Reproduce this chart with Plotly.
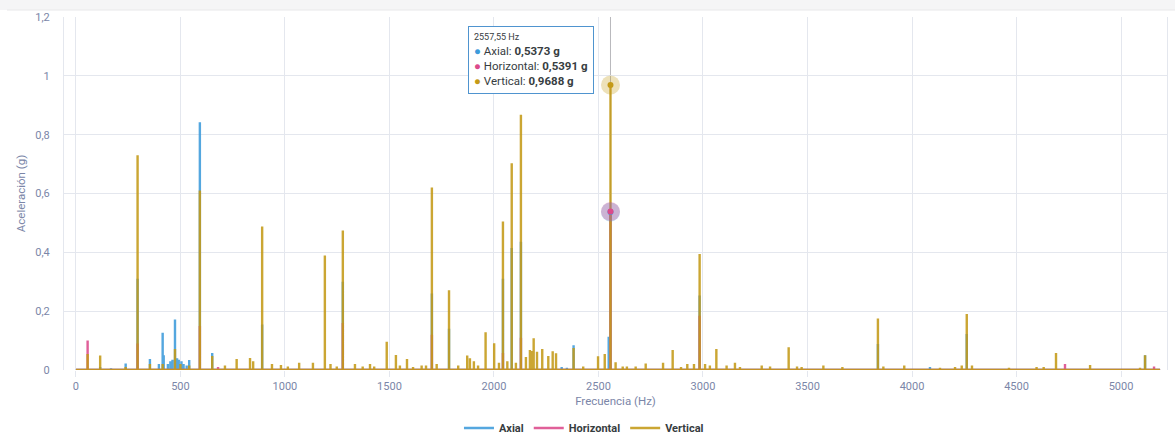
import plotly.graph_objects as go

# Spectrum peaks per measurement axis (frequency in Hz, amplitude in g)
axial_hz = [116, 168, 238, 295, 354, 397, 415, 420, 440, 452, 462, 474, 484, 492, 505, 515,
            530, 542, 593, 652, 891, 1277, 1703, 1785, 2043, 2085, 2129, 2324, 2349, 2381,
            2549, 2557.55, 2984, 3837, 4086, 4262, 5115]
axial_g = [0.010, 0.006, 0.022, 0.310, 0.037, 0.020, 0.127, 0.050, 0.020, 0.030, 0.035, 0.172,
           0.040, 0.035, 0.030, 0.020, 0.015, 0.034, 0.842, 0.058, 0.155, 0.300, 0.260, 0.140,
           0.310, 0.415, 0.436, 0.010, 0.008, 0.084, 0.113, 0.5373, 0.253, 0.088, 0.010, 0.122,
           0.050]

horizontal_hz = [56, 295, 593, 680, 1277, 1703, 2043, 2129, 2557.55, 2984, 4732, 5158]
horizontal_g = [0.100, 0.090, 0.150, 0.010, 0.160, 0.120, 0.058, 0.110, 0.5391, 0.184, 0.020,
                0.012]

vertical_hz = [56, 116, 238, 295, 354, 415, 474, 500, 542, 593, 652, 713, 769, 833, 848, 891,
               938, 981, 1014, 1068, 1134, 1191, 1218, 1248, 1277, 1335, 1372, 1407, 1427, 1487,
               1531, 1550, 1584, 1613, 1654, 1675, 1703, 1726, 1785, 1829, 1872, 1885, 1904,
               1924, 1960, 2001, 2024, 2043, 2064, 2085, 2105, 2129, 2153, 2172, 2180, 2190,
               2206, 2231, 2260, 2281, 2297, 2381, 2427, 2498, 2530, 2557.55, 2582, 2616, 2636,
               2678, 2726, 2809, 2855, 2895, 2925, 2957, 2984, 3010, 3033, 3064, 3113, 3153,
               3177, 3281, 3321, 3410, 3450, 3472, 3576, 3667, 3837, 3863, 3963, 4134, 4206,
               4238, 4262, 4287, 4464, 4596, 4630, 4689, 4852, 5091, 5115]
vertical_g = [0.054, 0.049, 0.010, 0.730, 0.020, 0.020, 0.071, 0.020, 0.015, 0.610, 0.048,
              0.015, 0.037, 0.041, 0.030, 0.488, 0.020, 0.017, 0.012, 0.025, 0.025, 0.389,
              0.020, 0.012, 0.474, 0.020, 0.012, 0.020, 0.012, 0.096, 0.051, 0.015, 0.037,
              0.010, 0.015, 0.015, 0.620, 0.020, 0.271, 0.015, 0.049, 0.040, 0.030, 0.015,
              0.128, 0.091, 0.025, 0.505, 0.030, 0.703, 0.025, 0.868, 0.044, 0.068, 0.065,
              0.108, 0.062, 0.071, 0.048, 0.064, 0.057, 0.075, 0.012, 0.047, 0.054, 0.9688,
              0.026, 0.012, 0.012, 0.012, 0.022, 0.025, 0.068, 0.010, 0.020, 0.020, 0.394,
              0.020, 0.015, 0.071, 0.015, 0.025, 0.010, 0.015, 0.012, 0.077, 0.012, 0.010,
              0.015, 0.010, 0.175, 0.012, 0.015, 0.008, 0.010, 0.015, 0.190, 0.015, 0.008,
              0.010, 0.010, 0.058, 0.017, 0.008, 0.050]

freq_start, freq_end = 0, 5187
cursor_hz = 2557.55

x_ticks = [0, 500, 1000, 1500, 2000, 2500, 3000, 3500, 4000, 4500, 5000]
y_ticks = [0, 0.2, 0.4, 0.6, 0.8, 1.0, 1.2]
y_tick_text = ["0", "0,2", "0,4", "0,6", "0,8", "1", "1,2"]

series = [
    ("Axial", axial_hz, axial_g, "#3d9bdb"),
    ("Horizontal", horizontal_hz, horizontal_g, "#dc4a8b"),
    ("Vertical", vertical_hz, vertical_g, "#c49a17"),
]

GRID = "#e4e7ee"
TICK = "#7b86a8"
FONT = "Roboto"


def stems(freqs, amps):
    """Spectrum polyline: baseline at zero with a vertical spike at each peak."""
    xs, ys = [freq_start], [0.0]
    for f, a in sorted(zip(freqs, amps)):
        xs += [f, f, f]
        ys += [0.0, a, 0.0]
    xs.append(freq_end)
    ys.append(0.0)
    return xs, ys


fig = go.Figure()

for name, hz, g, color in series:
    xs, ys = stems(hz, g)
    fig.add_trace(go.Scatter(
        x=xs, y=ys, mode="lines", name=name,
        line=dict(color=color, width=2.4), opacity=0.88,
        hoverinfo="skip",
    ))

# Cursor markers at the selected frequency (halo + dot)
cursor_vals = {}
for name, hz, g, color in series:
    val = g[hz.index(cursor_hz)]
    cursor_vals[name] = val
    fig.add_trace(go.Scatter(
        x=[cursor_hz], y=[val], mode="markers", showlegend=False, hoverinfo="skip",
        marker=dict(size=19, color=color, opacity=0.3, line=dict(width=0)),
    ))
for name, hz, g, color in series:
    fig.add_trace(go.Scatter(
        x=[cursor_hz], y=[cursor_vals[name]], mode="markers", showlegend=False,
        hoverinfo="skip",
        marker=dict(size=6, color=color, line=dict(width=0)),
    ))


def fmt(v, nd):
    return f"{v:.{nd}f}".replace(".", ",")


tip_lines = [f"<span style='font-size:9px'>{fmt(cursor_hz, 2)} Hz</span>"]
for name, hz, g, color in series:
    tip_lines.append(
        f"<span style='color:{color}'>●</span> {name}: <b>{fmt(cursor_vals[name], 4)} g</b>"
    )

fig.add_annotation(
    xref="paper", yref="paper", x=0.3663, y=0.974, xanchor="left", yanchor="top",
    text="<br>".join(tip_lines), align="left", showarrow=False,
    font=dict(family=FONT, size=11.5, color="#373d3f"),
    bgcolor="white", bordercolor="#4f94cf", borderwidth=1, borderpad=5,
)

# Crosshair at the cursor frequency
fig.add_shape(type="line", xref="x", yref="paper", x0=cursor_hz, x1=cursor_hz, y0=0, y1=1,
              line=dict(color="#b9b9bd", width=1), layer="below")

# Page strip above the card
fig.add_shape(type="rect", xref="paper", yref="paper", x0=-0.07, x1=1.02, y0=1.0198, y1=1.06,
              fillcolor="#f5f5f6", line=dict(width=0), layer="below")
fig.add_shape(type="line", xref="paper", yref="paper", x0=-0.0517, x1=1.02, y0=1.0198,
              y1=1.0198, line=dict(color="#e8e8ea", width=1), layer="below")

fig.update_layout(
    width=1175, height=435,
    margin=dict(l=64, r=8, t=17, b=65, autoexpand=False),
    paper_bgcolor="white", plot_bgcolor="white",
    separators=",.",
    font=dict(family=FONT, size=11, color=TICK),
    showlegend=True,
    legend=dict(
        orientation="h", xref="container", yref="container",
        x=0.497, xanchor="center", y=0.016, yanchor="middle",
        font=dict(family=FONT, size=11, color="#373d3f", weight="bold"),
        itemwidth=30, traceorder="normal",
    ),
    xaxis=dict(
        range=[-57, 5220], tickvals=x_ticks, ticktext=[str(t) for t in x_ticks],
        showgrid=True, gridcolor=GRID, gridwidth=1, zeroline=False,
        ticks="outside", ticklen=6, tickcolor=GRID,
        showline=False, automargin=False,
        tickfont=dict(family=FONT, size=11, color=TICK),
        title=dict(text="Frecuencia (Hz)", standoff=4,
                   font=dict(family=FONT, size=11.5, color=TICK)),
    ),
    yaxis=dict(
        range=[0, 1.2], tickvals=y_ticks, ticktext=y_tick_text,
        showgrid=True, gridcolor=GRID, gridwidth=1, zeroline=False,
        showline=True, linecolor=GRID, linewidth=1, mirror=True,
        ticks="", ticklabelstandoff=11, automargin=False,
        tickfont=dict(family=FONT, size=11, color=TICK),
        title=dict(text="Aceleración (g)", standoff=7,
                   font=dict(family=FONT, size=11.5, color=TICK)),
    ),
)

fig.write_html("out.html")
